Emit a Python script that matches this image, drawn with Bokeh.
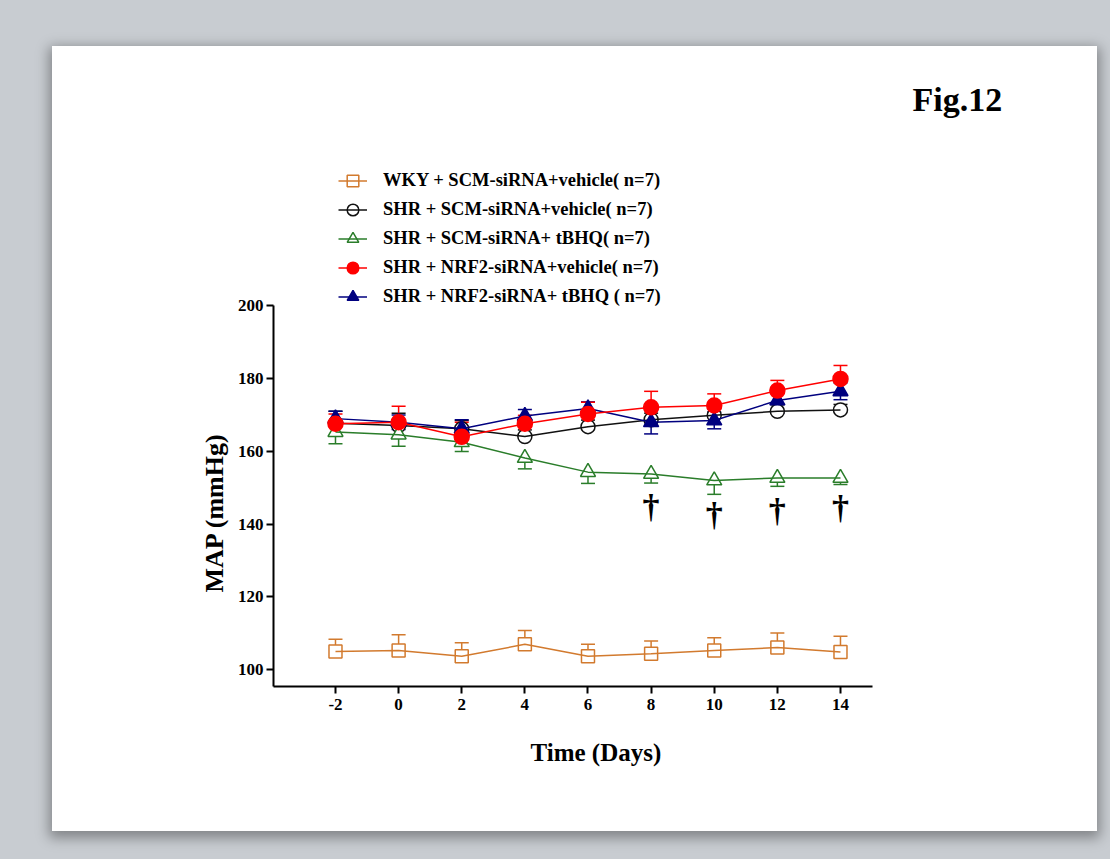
from bokeh.plotting import figure
from bokeh.models import (ColumnDataSource, Whisker, TeeHead, Legend, LegendItem,
                          FixedTicker, Range1d, Label, Title, GlobalInlineStyleSheet)
from bokeh.core.properties import value
from bokeh.embed import file_html
from bokeh.resources import INLINE

# ---------------- data ----------------
days = [-2, 0, 2, 4, 6, 8, 10, 12, 14]
y_ticks = [100, 120, 140, 160, 180, 200]

wky_vehicle = [105.0, 105.3, 103.7, 107.0, 103.7, 104.4, 105.3, 106.1, 104.9]
wky_vehicle_sem = [3.4, 4.3, 3.7, 3.8, 3.3, 3.5, 3.5, 4.0, 4.3]

shr_vehicle = [167.7, 167.1, 166.2, 164.1, 166.8, 168.7, 169.9, 171.0, 171.4]
shr_vehicle_sem = [3.3, 3.4, 2.3, 1.8, 1.8, 1.8, 1.8, 1.8, 1.5]

shr_tbhq = [165.3, 164.6, 162.5, 158.2, 154.3, 153.8, 152.0, 152.7, 152.7]
shr_tbhq_sem = [3.2, 3.2, 2.5, 3.0, 3.1, 2.5, 3.8, 2.3, 1.8]

nrf2_vehicle = [167.6, 168.0, 164.0, 167.6, 170.3, 172.1, 172.6, 176.7, 179.9]
nrf2_vehicle_sem = [2.7, 4.4, 4.0, 2.3, 3.2, 4.4, 3.2, 2.8, 3.7]

nrf2_tbhq = [169.0, 168.0, 166.2, 169.7, 171.8, 168.0, 168.5, 174.0, 176.5]
nrf2_tbhq_sem = [2.0, 2.0, 2.5, 1.8, 1.8, 3.2, 2.3, 3.5, 2.3]

labels = [
    "WKY + SCM-siRNA+vehicle( n=7)",
    "SHR + SCM-siRNA+vehicle( n=7)",
    "SHR + SCM-siRNA+ tBHQ( n=7)",
    "SHR + NRF2-siRNA+vehicle( n=7)",
    "SHR + NRF2-siRNA+ tBHQ ( n=7)",
]

dagger_days = [8, 10, 12, 14]
dagger_y = [144.8, 142.6, 143.7, 144.5]

# ---------------- style ----------------
SERIF = "Liberation Serif"
ORANGE = "#d27a2e"
BLACK = "#111111"
GREEN = "#2a7d2a"
RED = "#ff0000"
NAVY = "#00007f"
GRAY = "#c8ccd1"

W, H = 1045, 785   # the white page

p = figure(width=W, height=H, output_backend="svg", toolbar_location=None, title=None,
           x_range=Range1d(-3.964, 22.143), y_range=Range1d(95.41, 271.23),
           min_border_left=221, min_border_right=0, min_border_top=0,
           min_border_bottom=145, background_fill_alpha=0, border_fill_alpha=0)
p.margin = (46, 0, 0, 52)
p.styles = {"background-color": "white",
            "box-shadow": "0px 4px 12px 3px rgba(0,0,0,0.35)"}
p.stylesheets = [GlobalInlineStyleSheet(css="html, body { background-color: %s; }" % GRAY)]
p.outline_line_color = None
p.grid.visible = False

# axes
xa = p.xaxis[0]
ya = p.yaxis[0]
xa.ticker = FixedTicker(ticks=days)
ya.ticker = FixedTicker(ticks=y_ticks)
xa.bounds = (-3.964, 15.0)
ya.bounds = (90, 200)
xa.major_label_overrides = {-2: "-2"}
for ax in (xa, ya):
    ax.axis_line_color = "black"
    ax.axis_line_width = 2
    ax.major_tick_line_color = "black"
    ax.major_tick_line_width = 2
    ax.major_tick_out = 7
    ax.major_tick_in = 0
    ax.minor_tick_out = 0
    ax.minor_tick_in = 0
    ax.major_label_text_font = SERIF
    ax.major_label_text_font_style = "bold"
    ax.major_label_text_font_size = "17px"
    ax.major_label_text_color = "black"
xa.major_label_standoff = 5
ya.major_label_standoff = 3

p.add_layout(Title(text="MAP (mmHg)", align="left", offset=94, standoff=12,
                   text_font=SERIF, text_font_size="26px", text_font_style="bold",
                   text_color="black"), "left")
p.add_layout(Title(text="Time (Days)", align="left", offset=257, standoff=48,
                   text_font=SERIF, text_font_size="25px", text_font_style="bold",
                   text_color="black"), "below")

# series
series = [
    (wky_vehicle, wky_vehicle_sem, "up", ORANGE, "square", 13, "white", False),
    (shr_vehicle, shr_vehicle_sem, "up", BLACK, "circle", 14, "white", False),
    (shr_tbhq, shr_tbhq_sem, "down", GREEN, "triangle", 15, "white", False),
    (nrf2_vehicle, nrf2_vehicle_sem, "up", RED, "circle", 15, RED, True),
    (nrf2_tbhq, nrf2_tbhq_sem, "both", NAVY, "triangle", 15, NAVY, True),
]

items = {}
draw_order = [0, 1, 2, 4, 3]
for i in draw_order:
    vals, sems, direction, color, marker, size, fill, line_first = series[i]
    lower = [v - s if direction in ("down", "both") else v for v, s in zip(vals, sems)]
    upper = [v + s if direction in ("up", "both") else v for v, s in zip(vals, sems)]
    src = ColumnDataSource(dict(x=days, y=vals, lower=lower, upper=upper))
    uh = TeeHead(size=14, line_color=color, line_width=1.5) if direction in ("up", "both") else None
    lh = TeeHead(size=14, line_color=color, line_width=1.5) if direction in ("down", "both") else None
    p.add_layout(Whisker(source=src, base="x", lower="lower", upper="upper",
                         dimension="height", line_color=color, line_width=1.5,
                         upper_head=uh, lower_head=lh, level="underlay"))
    if line_first:
        ln = p.line("x", "y", source=src, line_color=color, line_width=1.5)
        sc = p.scatter("x", "y", source=src, marker=marker, size=size,
                       fill_color=fill, line_color=color, line_width=1.5)
    else:
        sc = p.scatter("x", "y", source=src, marker=marker, size=size,
                       fill_color=fill, line_color=color, line_width=1.5)
        ln = p.line("x", "y", source=src, line_color=color, line_width=1.5)
    items[i] = LegendItem(label=labels[i], renderers=[sc, ln])

# significance daggers
p.text(x=dagger_days, y=dagger_y, text=["\u2020"] * len(dagger_days),
       text_font=value(SERIF), text_font_size="34px", text_font_style="bold",
       text_align="center", text_baseline="middle", text_color="black")

legend = Legend(items=[items[i] for i in range(5)], location=(65, 375),
                orientation="vertical", padding=0, margin=0, spacing=0,
                glyph_width=29, glyph_height=29, label_height=29, label_standoff=16,
                label_text_font=SERIF, label_text_font_size="18.5px",
                label_text_font_style="bold", label_text_color="black",
                border_line_color=None, background_fill_alpha=0)
p.add_layout(legend)

p.add_layout(Label(x=16.28, y=256.7, text="Fig.12",
                   text_font=SERIF, text_font_size="34px", text_font_style="bold",
                   text_color="black", text_baseline="alphabetic"))

open("out.html", "w").write(file_html(p, INLINE))
